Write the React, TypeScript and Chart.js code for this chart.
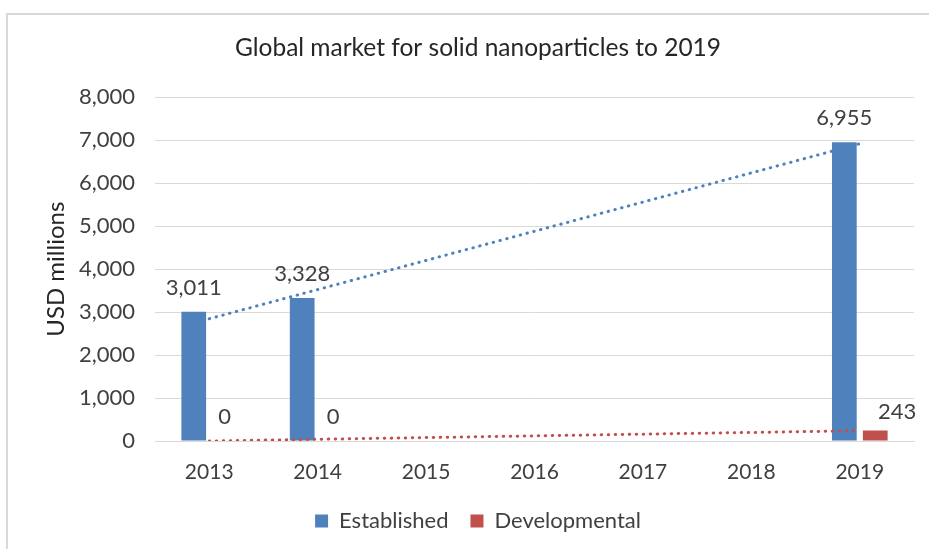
import React, { useEffect, useRef } from "react";
import { Chart, registerables } from "chart.js";

Chart.register(...registerables);

const chartTitle = "Global market for solid nanoparticles to 2019";
const yAxisTitle = "USD millions";
const years = ["2013", "2014", "2015", "2016", "2017", "2018", "2019"];
const established: (number | null)[] = [3011, 3328, null, null, null, null, 6955];
const developmental: (number | null)[] = [0, 0, null, null, null, null, 243];
const establishedTrend: (number | null)[] = [2846, null, null, null, null, null, 6922];
const developmentalTrend: (number | null)[] = [0, null, null, null, null, null, 239];
const yMax = 8000;
const yStep = 1000;

const FONT = "Lato";
const TEXT = "#404040";
const BLUE = "#4F81BD";
const RED = "#C0504D";

const valueLabels = {
  id: "valueLabels",
  afterDatasetsDraw(chart: any) {
    const ctx = chart.ctx;
    ctx.save();
    ctx.font = `22px ${FONT}`;
    ctx.fillStyle = TEXT;
    ctx.textAlign = "center";
    ctx.textBaseline = "middle";
    chart.data.datasets.forEach((ds: any, di: number) => {
      if (ds.type === "line") return;
      const meta = chart.getDatasetMeta(di);
      meta.data.forEach((el: any, i: number) => {
        const v = ds.data[i];
        if (v === null || v === undefined) return;
        let dx = 0;
        let dy = -24;
        if (di === 3 && i === 6) {
          dx = 22;
          dy = -19;
        }
        ctx.fillText(Number(v).toLocaleString("en-US"), el.x + dx, el.y + dy);
      });
    });
    ctx.restore();
  },
};

export default function App() {
  const ref = useRef<HTMLCanvasElement | null>(null);

  useEffect(() => {
    if (!ref.current) return;
    const chart = new Chart(ref.current, {
      type: "bar",
      data: {
        labels: years,
        datasets: [
          {
            type: "line",
            label: "Established trend",
            data: establishedTrend,
            borderColor: BLUE,
            borderWidth: 3,
            borderDash: [0.5, 6.5],
            borderCapStyle: "round",
            pointRadius: 0,
            spanGaps: true,
            fill: false,
            order: 0,
          } as any,
          {
            type: "line",
            label: "Developmental trend",
            data: developmentalTrend,
            borderColor: RED,
            borderWidth: 3,
            borderDash: [0.5, 6.5],
            borderCapStyle: "round",
            pointRadius: 0,
            spanGaps: true,
            fill: false,
            order: 0,
          } as any,
          {
            label: "Established",
            data: established,
            backgroundColor: BLUE,
            categoryPercentage: 0.57,
            barPercentage: 0.8,
            order: 1,
          },
          {
            label: "Developmental",
            data: developmental,
            backgroundColor: RED,
            categoryPercentage: 0.57,
            barPercentage: 0.8,
            order: 1,
          },
        ],
      },
      options: {
        animation: false,
        responsive: false,
        maintainAspectRatio: false,
        layout: { padding: { left: 42, right: 15, top: 0, bottom: 7 } },
        plugins: {
          title: {
            display: true,
            text: chartTitle,
            color: "#262626",
            font: { family: FONT, size: 24.5, weight: "normal" },
            padding: { top: 33, bottom: 35 },
          },
          legend: {
            position: "bottom",
            labels: {
              filter: (item: any) => !String(item.text).includes("trend"),
              color: TEXT,
              font: { family: FONT, size: 22 },
              boxWidth: 13,
              boxHeight: 13,
              padding: 22,
            },
          },
          tooltip: { enabled: false },
        },
        scales: {
          x: {
            grid: { display: false, drawTicks: false },
            border: { display: true, color: "#d9d9d9", width: 1 },
            ticks: { color: TEXT, font: { family: FONT, size: 21 }, padding: 19, maxRotation: 0 },
            afterFit: (scale: any) => {
              scale.height = 47;
            },
          },
          y: {
            min: 0,
            max: yMax,
            afterFit: (scale: any) => {
              scale.width = 113;
            },
            ticks: {
              stepSize: yStep,
              color: TEXT,
              font: { family: FONT, size: 22 },
              padding: 20,
              callback: (v: any) => Number(v).toLocaleString("en-US"),
            },
            grid: { color: "#d9d9d9", drawTicks: false },
            border: { display: false },
            title: {
              display: true,
              text: yAxisTitle,
              color: "#262626",
              font: { family: FONT, size: 24 },
              padding: 0,
            },
          },
        },
      },
      plugins: [valueLabels],
    });
    return () => chart.destroy();
  }, []);

  return (
    <div style={{ position: "fixed", left: 0, top: 0, width: 929, height: 549, background: "#fff", overflow: "hidden" }}>
      <div
        style={{
          position: "absolute",
          left: 6,
          top: 13,
          width: 940,
          height: 560,
          border: "2px solid #d9d9d9",
          boxSizing: "border-box",
        }}
      />
      <canvas ref={ref} width={929} height={549} style={{ position: "absolute", left: 0, top: 0 }} />
    </div>
  );
}
